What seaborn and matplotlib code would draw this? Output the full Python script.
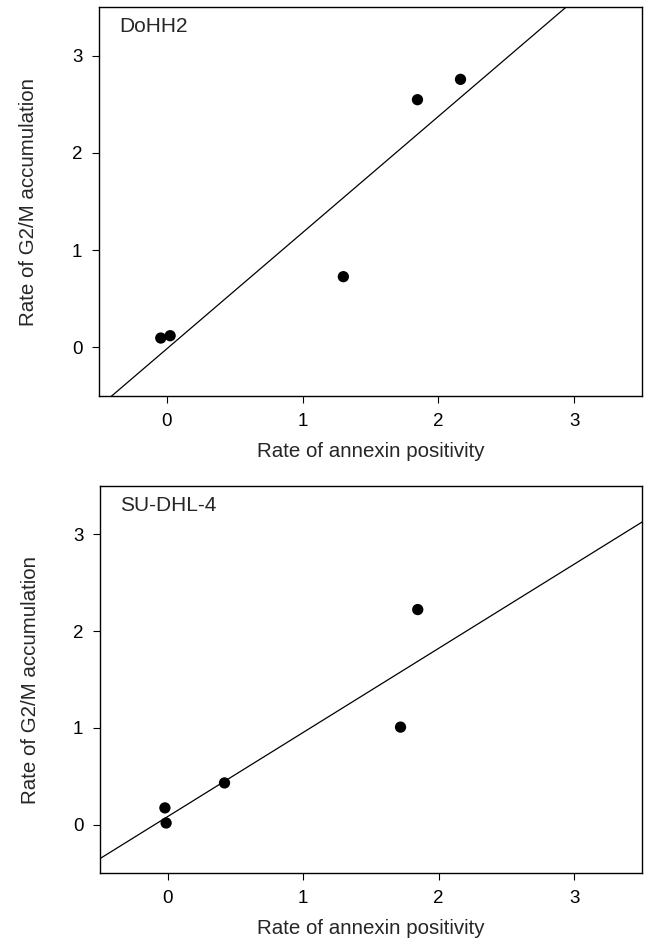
import numpy as np
import pandas as pd
import matplotlib
matplotlib.use("Agg")
import matplotlib.pyplot as plt
import seaborn as sns

# ---- data ----
dohh2_annexin = [-0.045, 0.024, 1.30, 1.846, 2.163]
dohh2_g2m = [0.096, 0.12, 0.727, 2.547, 2.756]

sudhl4_annexin = [-0.021, -0.012, 0.419, 1.718, 1.845]
sudhl4_g2m = [0.173, 0.017, 0.431, 1.008, 2.223]

panel_titles = ["DoHH2", "SU-DHL-4"]
tick_values = [0, 1, 2, 3]
x_label = "Rate of annexin positivity"
y_label = "Rate of G2/M accumulation"

sns.set_style("ticks")
plt.rcParams["font.family"] = ["Liberation Sans", "DejaVu Sans"]

fig = plt.figure(figsize=(6.45, 9.43), dpi=100)
W, H = 645, 943

def axes_px(left, top, right, bottom):
    return fig.add_axes([left / W, 1 - bottom / H, (right - left) / W, (bottom - top) / H])

ax1 = axes_px(99, 7, 642, 396)
ax2 = axes_px(100, 486, 642, 873)

datasets = [
    (ax1, dohh2_annexin, dohh2_g2m, panel_titles[0]),
    (ax2, sudhl4_annexin, sudhl4_g2m, panel_titles[1]),
]

for ax, xs, ys, title in datasets:
    ax.set_xlim(-0.5, 3.5)
    ax.set_ylim(-0.5, 3.5)
    df = pd.DataFrame({"annexin": xs, "g2m": ys})
    sns.regplot(data=df, x="annexin", y="g2m", ax=ax, ci=None, truncate=False,
                scatter_kws=dict(s=66, color="black", edgecolors="none", alpha=1),
                line_kws=dict(color="black", lw=0.9))
    ax.set_xlim(-0.5, 3.5)
    ax.set_ylim(-0.5, 3.5)
    ax.set_xticks(tick_values)
    ax.set_yticks(tick_values)
    ax.tick_params(direction="out", length=5, width=0.8, labelsize=13.5, colors="black", pad=7)
    for sp in ax.spines.values():
        sp.set_visible(True)
        sp.set_color("black")
        sp.set_linewidth(1.0)
    ax.set_xlabel(x_label, fontsize=14.8, labelpad=9)
    ax.set_ylabel(y_label, fontsize=14.8, labelpad=24)
    ax.text(-0.35, 3.30, title, fontsize=15, ha="left", va="center")

fig.savefig("out.png", dpi=100)
